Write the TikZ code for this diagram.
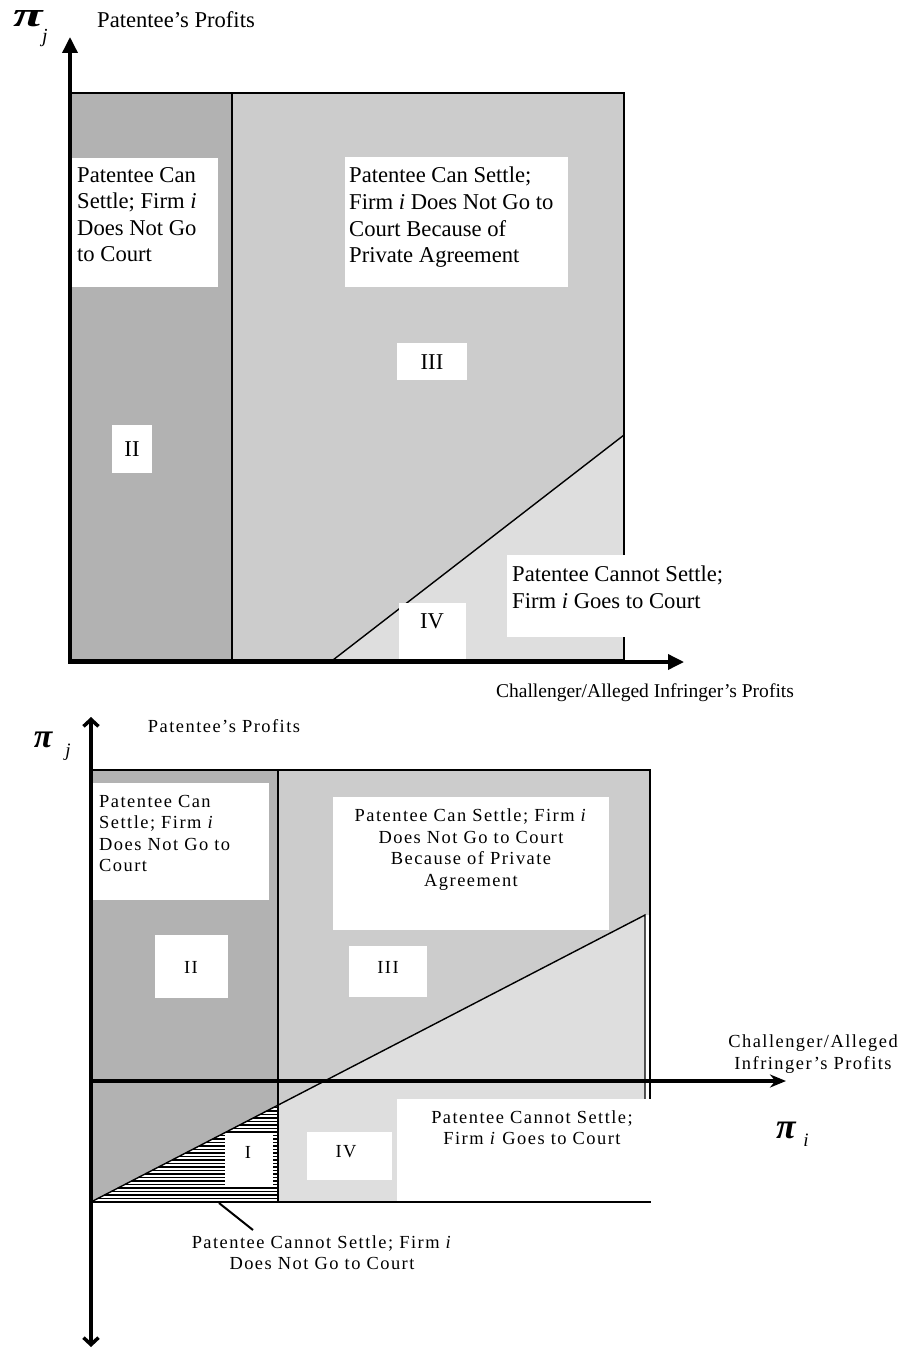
\documentclass[tikz,border=0pt]{standalone}
\usepackage{fontspec}
\setmainfont{Liberation Serif}
\newfontfamily\spc[LetterSpace=8]{Liberation Serif}
\usetikzlibrary{arrows.meta}

\definecolor{regdark}{gray}{0.70}
\definecolor{regmid}{gray}{0.80}
\definecolor{reglight}{gray}{0.87}

\tikzset{
  bigtxt/.style={font=\fontsize{22.7}{26.7}\selectfont, inner sep=0pt, align=left, anchor=north west},
  bigfont/.style={font=\fontsize{22.7}{26.7}\selectfont, inner sep=0pt},
  stxt/.style={font=\spc\fontsize{18.5}{21.5}\selectfont, inner sep=0pt},
  axisline/.style={line width=3.5bp},
  edgeline/.style={line width=1.4bp},
  pisym/.style={inner sep=0pt, font=\bfseries\itshape},
  subsym/.style={inner sep=0pt, font=\itshape}
}

\begin{document}
\begin{tikzpicture}[x=1bp, y=-1bp]
\useasboundingbox (0,0) rectangle (906,1349);

% ---------------- upper diagram ----------------
\fill[regdark] (70,93) rectangle (232,660);
\fill[regmid] (232,93) -- (624,93) -- (624,435) -- (333,660) -- (232,660) -- cycle;
\fill[reglight] (333,660) -- (624,435) -- (624,660) -- cycle;
\draw[edgeline] (70,93) rectangle (624,660);
\draw[edgeline] (232,93) -- (232,660);
\draw[edgeline] (333,660) -- (624,435);

\fill[white] (72,158) rectangle (218,287);
\fill[white] (345,157) rectangle (568,287);
\fill[white] (112,425) rectangle (152,473);
\fill[white] (397,343) rectangle (467,380);
\fill[white] (399,603) rectangle (466,658.5);
\fill[white] (507,555) rectangle (725,637);

\node[bigtxt] (tTL) at (77,167) {Patentee Can\\Settle; Firm \textit{i}\\Does Not Go\\to Court};
\node[bigtxt] (tTM) at (349,167) {Patentee Can Settle;\\Firm \textit{i} Does Not Go to\\Court Because of\\Private Agreement};
\node[bigfont] (tII) at (132,449) {II};
\node[bigfont] (tIII) at (432,362) {III};
\node[bigfont] (tIV) at (432,621) {IV};
\node[bigtxt] (tTR) at (512,566) {Patentee Cannot Settle;\\Firm \textit{i} Goes to Court};

\coordinate (o1) at (70,662);
\coordinate (y1) at (70,37);
\coordinate (x1s) at (68.25,662);
\coordinate (x1) at (684,662);
\draw[axisline,-{Triangle[width=15bp,length=16bp]}] (o1) -- (y1);
\draw[axisline,-{Triangle[width=15bp,length=16bp]}] (x1s) -- (x1);

\node[pisym, font=\bfseries\itshape\fontsize{35}{35}\selectfont, xscale=1.55] (pj1) at (28,19) {π};
\node[subsym, font=\itshape\fontsize{20}{20}\selectfont] (sj1) at (45,38) {j};
\node[bigfont, anchor=west] (pp1) at (97,20) {Patentee’s Profits};
\node[font=\fontsize{19.6}{22}\selectfont, inner sep=0pt] (cp1) at (645,693) {Challenger/Alleged Infringer’s Profits};

% ---------------- lower diagram ----------------
\fill[regdark] (91,770) -- (278,770) -- (278,1105) -- (91,1202) -- cycle;
\fill[regmid] (278,770) -- (650,770) -- (650,915) -- (645,915) -- (278,1105) -- cycle;
\fill[reglight] (278,1105) -- (645,915) -- (645,1202) -- (278,1202) -- cycle;
\begin{scope}
  \clip (91,1202) -- (278,1105) -- (278,1202) -- cycle;
  \foreach \yy in {1104,1107.5,...,1203}
    \draw[line width=1.3bp] (91,\yy) -- (278,\yy);
\end{scope}
\draw[edgeline] (91,770) rectangle (650,1202);
\draw[edgeline] (278,770) -- (278,1202);
\draw[edgeline] (91,1202) -- (645,915) -- (645,1202);

\fill[white] (91,783) rectangle (269,900);
\fill[white] (155,935) rectangle (228,998);
\fill[white] (333,797) rectangle (609,930);
\fill[white] (349,946) rectangle (427,997);
\fill[white] (225,1135) rectangle (273,1185);
\fill[white] (307,1132) rectangle (392,1180);
\fill[white] (397,1099) rectangle (652,1200.5);

\node[stxt, align=left, anchor=north west] (bTL) at (99,795) {Patentee Can\\Settle; Firm \textit{i}\\Does Not Go to\\Court};
\node[stxt, align=center, anchor=north] (bTM) at (471,809) {Patentee Can Settle; Firm \textit{i}\\Does Not Go to Court\\Because of Private\\Agreement};
\node[stxt] (bII) at (191,967) {II};
\node[stxt] (bIII) at (388,967) {III};
\node[stxt] (bI) at (248,1152) {I};
\node[stxt] (bIV) at (346,1152) {IV};
\node[stxt, align=center, anchor=north] (bTR) at (532,1110) {Patentee Cannot Settle;\\Firm \textit{i} Goes to Court};
\node[stxt, align=center, anchor=north] (bNote) at (322,1235) {Patentee Cannot Settle; Firm \textit{i}\\Does Not Go to Court};
\coordinate (leadA) at (219,1203);
\coordinate (leadB) at (253,1230);
\draw[line width=2bp] (leadA) -- (leadB);

\coordinate (y2lo) at (91,1347);
\coordinate (y2hi) at (91,717);
\coordinate (x2s) at (89.25,1081);
\coordinate (x2) at (786,1081);
\draw[axisline,{Straight Barb[length=7bp,width=15bp]}-{Straight Barb[length=7bp,width=15bp]}] (y2lo) -- (y2hi);
\draw[axisline,-{Stealth[length=16bp,width=13bp]}] (x2s) -- (x2);

\node[stxt, align=center] (bXlab) at (813,1054) {Challenger/Alleged\\Infringer’s Profits};
\node[stxt] (bYlab) at (224,726) {Patentee’s Profits};
\node[pisym, font=\bfseries\itshape\fontsize{34}{34}\selectfont] (pj2) at (43,740) {π};
\node[subsym, font=\itshape\fontsize{19}{19}\selectfont] (sj2) at (68,752) {j};
\node[pisym, font=\bfseries\itshape\fontsize{36}{36}\selectfont] (pi2) at (786,1130) {π};
\node[subsym, font=\itshape\fontsize{19}{19}\selectfont] (si2) at (806,1140) {i};
\end{tikzpicture}
\end{document}
